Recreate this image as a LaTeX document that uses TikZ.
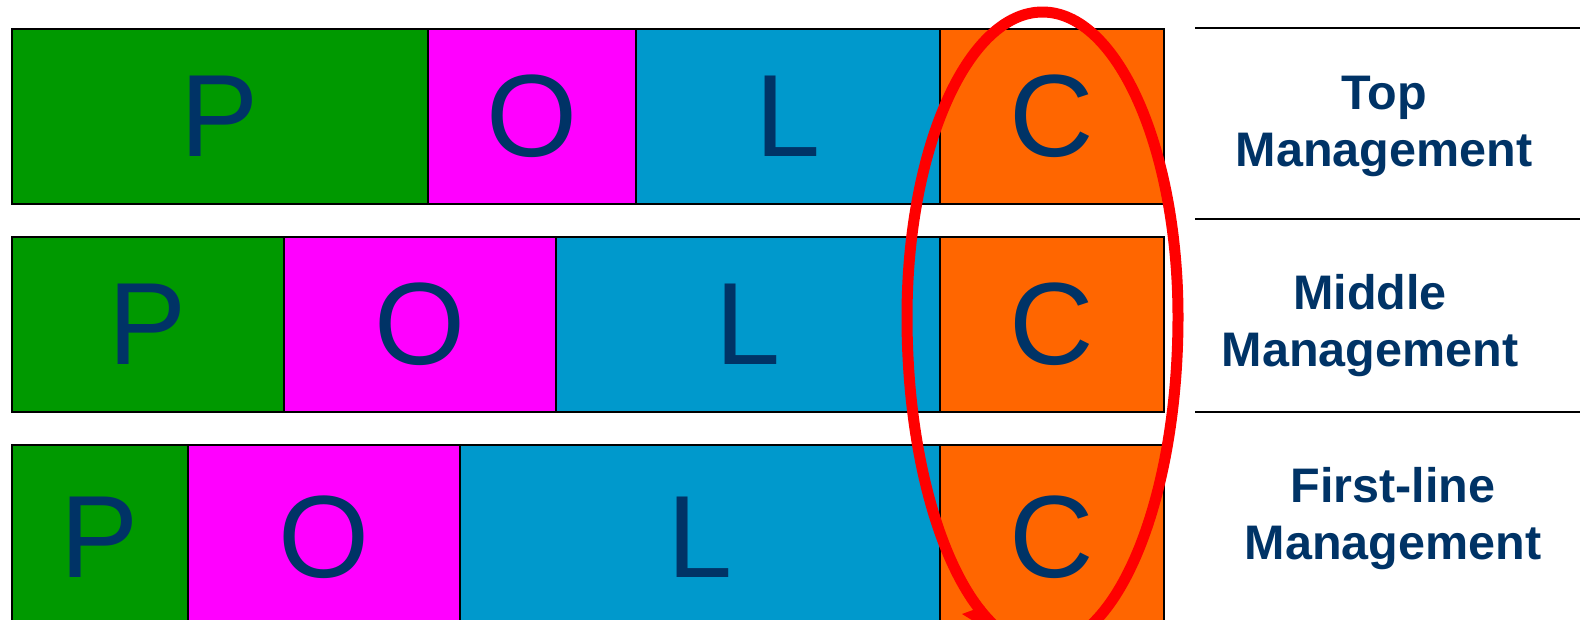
\documentclass[tikz,border=0pt]{standalone}
\usepackage{fontspec}
\setmainfont{Liberation Sans}
\usepackage{tikz}
\usetikzlibrary{positioning}
\usepackage{xcolor}

\definecolor{polcgreen}{HTML}{009900}
\definecolor{polcmagenta}{HTML}{FF00FF}
\definecolor{polcblue}{HTML}{0099CC}
\definecolor{polcorange}{HTML}{FF6600}
\definecolor{textnavy}{HTML}{003366}
\newcommand{\polcfont}{\fontsize{117}{140}\selectfont}
\newcommand{\levelfont}{\bfseries\fontsize{48.5}{57}\selectfont}

\begin{document}
\begin{tikzpicture}[x=1pt, y=-1pt,
  cell/.style={draw=black, line width=1.5pt, anchor=north west, inner sep=0pt, minimum height=175pt, text=textnavy, font=\polcfont},
  level/.style={align=center, text=textnavy, font=\levelfont},
  divider/.style={draw=black, line width=1.6pt},
  ovalmark/.style={draw=red, line width=11pt}]

\useasboundingbox (0,0) rectangle (1583,619);
\clip (0,0) rectangle (1583,619);

  % Define the three rows of cells
\node[cell, fill=polcgreen, minimum width=416pt] (P1) at (11,28) {P}; \node[cell, fill=polcmagenta, minimum width=208pt] (O1) at (427,28) {O}; \node[cell, fill=polcblue, minimum width=304pt] (L1) at (635,28) {L}; \node[cell, fill=polcorange, minimum width=224pt] (C1) at (939,28) {C};
\node[cell, fill=polcgreen, minimum width=272pt] (P2) at (11,236) {P}; \node[cell, fill=polcmagenta, minimum width=272pt] (O2) at (283,236) {O}; \node[cell, fill=polcblue, minimum width=384pt] (L2) at (555,236) {L}; \node[cell, fill=polcorange, minimum width=224pt] (C2) at (939,236) {C};
\node[cell, fill=polcgreen, minimum width=176pt, minimum height=185pt] (P3) at (11,444) {P}; \node[cell, fill=polcmagenta, minimum width=272pt, minimum height=185pt] (O3) at (187,444) {O}; \node[cell, fill=polcblue, minimum width=480pt, minimum height=185pt] (L3) at (459,444) {L}; \node[cell, fill=polcorange, minimum width=224pt, minimum height=185pt] (C3) at (939,444) {C};

  % Level labels and dividers
\node[level] (top) at (1384,126) {Top\\Management}; \node[level] (middle) at (1370,326) {Middle\\Management}; \node[level] (first) at (1393,519) {First-line\\Management};
\draw[divider] (1195,28) -- (1580,28); \draw[divider] (1195,219) -- (1580,219); \draw[divider] (1195,412) -- (1580,412);

  % Oval round the C column
\draw[ovalmark] (1178,317) arc[start angle=0, end angle=180, x radius=135.5, y radius=330] arc[start angle=180, end angle=360, x radius=135.5, y radius=305];
\fill[red] (962,614) -- (984,606) -- (990,622) -- (975,622) -- cycle;

\end{tikzpicture}
\end{document}
